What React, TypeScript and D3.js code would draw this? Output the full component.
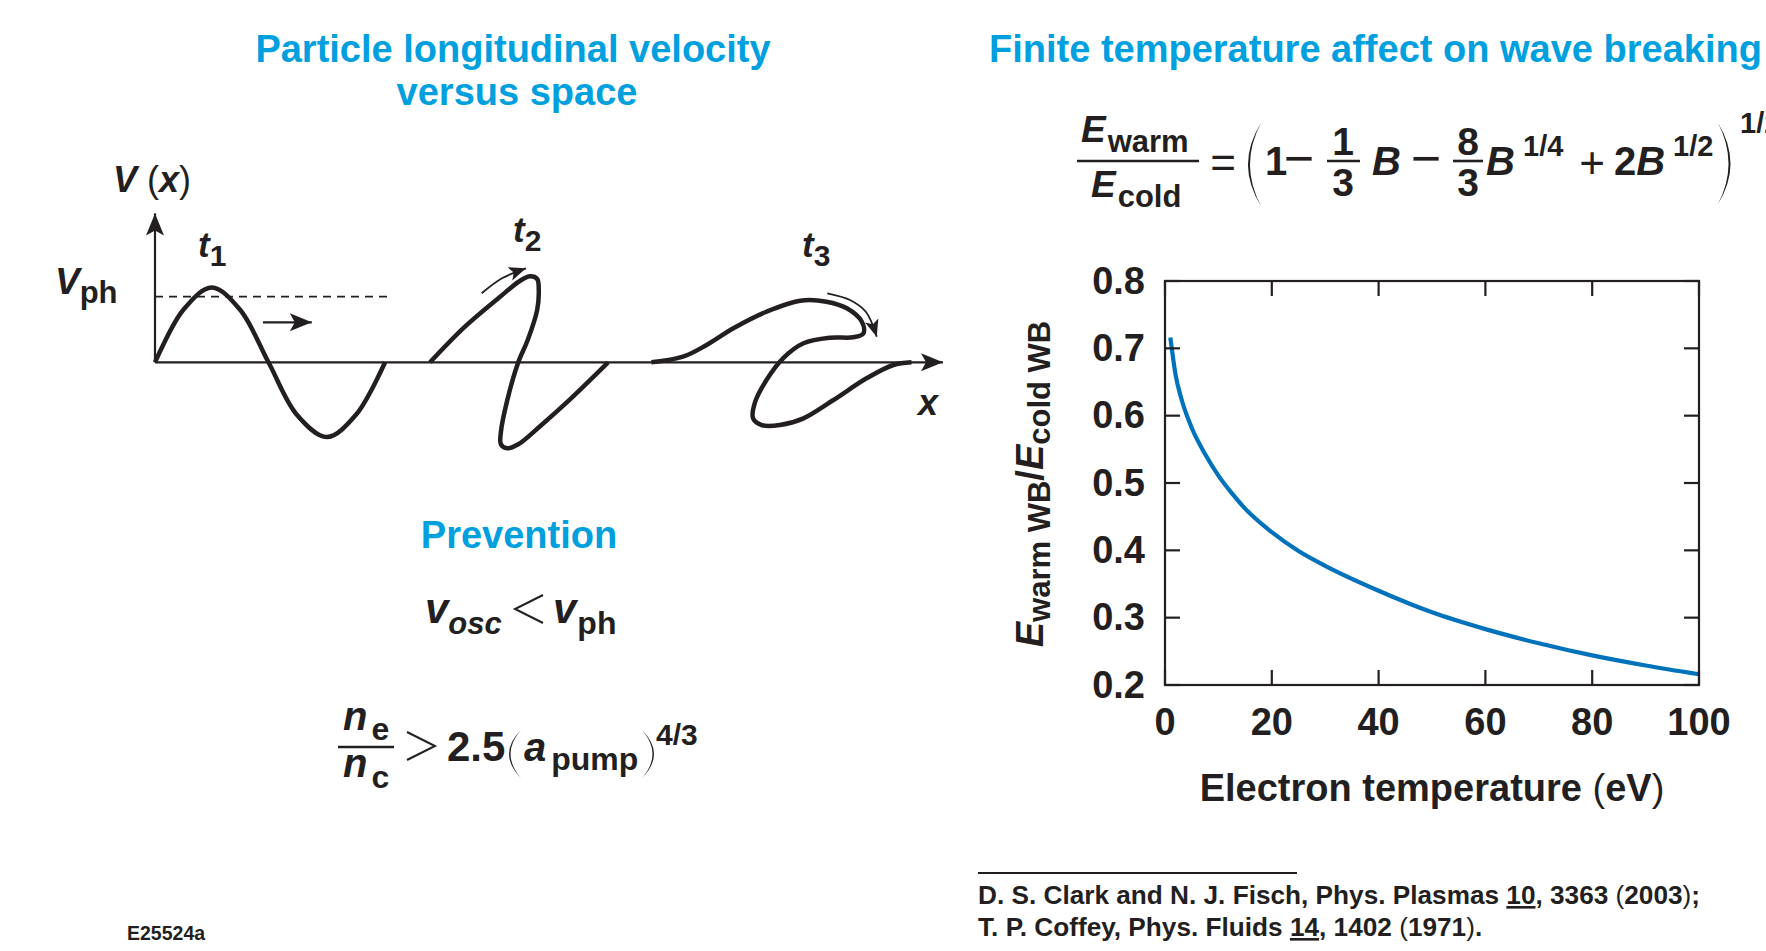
import React from 'react';
import * as d3 from 'd3';

const FONT = '"Liberation Sans", Arial, Helvetica, sans-serif';
const TITLE_BLUE = '#00a0df';
const CURVE_BLUE = '#0072bc';
const INK = '#231f20';

// ---------- Right chart data ----------
const tempEV = [1, 2, 3, 5, 7.5, 10, 12.5, 15, 20, 25, 30, 40, 50, 60, 70, 80, 90, 100];
const ratio = [0.716, 0.66, 0.627, 0.582, 0.543, 0.511, 0.485, 0.462, 0.427, 0.399, 0.377, 0.34, 0.308, 0.283, 0.262, 0.244, 0.229, 0.216];
const xTicks = [0, 20, 40, 60, 80, 100];
const yTicks = [0.2, 0.3, 0.4, 0.5, 0.6, 0.7, 0.8];
const yTickLabels = ['0.2', '0.3', '0.4', '0.5', '0.6', '0.7', '0.8'];

// ---------- Left schematic data (x: space units, v: units of v_ph) ----------
const wave1X = [0, 0.36, 0.72, 1.08, 1.44, 1.8, 2.18, 2.55, 2.92];
const wave1V = [0, 0.8, 1.14, 0.8, 0, -0.8, -1.14, -0.8, 0];
const wave2X = [3.49, 3.93, 4.38, 4.63, 4.76, 4.85, 4.87, 4.85, 4.73, 4.61, 4.47, 4.39, 4.39, 4.47, 4.61, 4.89, 5.27, 5.75];
const wave2V = [0, 0.54, 1.0, 1.24, 1.31, 1.27, 1.1, 0.8, 0.34, 0, -0.58, -1.06, -1.25, -1.31, -1.25, -0.97, -0.56, 0];
const wave3X = [6.3, 6.7, 7.0, 7.34, 7.76, 8.19, 8.52, 8.78, 8.97, 8.99, 8.86, 8.57, 8.23, 7.97, 7.76, 7.61, 7.59, 7.7, 7.93, 8.23, 8.61, 9.03, 9.37, 9.6];
const wave3V = [0, 0.085, 0.264, 0.518, 0.771, 0.939, 0.924, 0.823, 0.619, 0.442, 0.381, 0.375, 0.29, 0.061, -0.27, -0.625, -0.854, -0.956, -0.956, -0.854, -0.575, -0.244, -0.041, 0];
const arrow2X = [4.146, 4.404, 4.708];
const arrow2V = [1.052, 1.28, 1.433];
const arrow3X = [8.532, 8.82, 9.023, 9.159];
const arrow3V = [1.052, 0.95, 0.767, 0.39];
const pushArrowX = [1.37, 1.99];
const pushArrowV = [0.61, 0.61];
const vphLevel = 1;
const dashEndX = 2.98;
const axisEndX = 10;
const axisTopV = 2.27;

const zip = (xs: number[], ys: number[]): [number, number][] => xs.map((x, i) => [x, ys[i]]);

function Crescent({ x, y0, y1, outer, inner }: { x: number; y0: number; y1: number; outer: number; inner: number }) {
  const ym = (y0 + y1) / 2;
  const d = `M${x},${y0} Q${outer},${ym} ${x},${y1} Q${inner},${ym} ${x},${y0} Z`;
  return <path d={d} fill={INK} />;
}

export default function App() {
  // left scales
  const xS = d3.scaleLinear().domain([0, 10]).range([155, 943]);
  const vS = d3.scaleLinear().domain([0, 1]).range([362.3, 296.7]);
  const lineL = d3
    .line<[number, number]>()
    .x((d) => xS(d[0]))
    .y((d) => vS(d[1]))
    .curve(d3.curveCatmullRom.alpha(0.5));
  const straight = d3
    .line<[number, number]>()
    .x((d) => xS(d[0]))
    .y((d) => vS(d[1]));

  // right scales
  const xR = d3.scaleLinear().domain([0, 100]).range([1165, 1699]);
  const yR = d3.scaleLinear().domain([0.2, 0.8]).range([685, 281]);
  const curve = d3
    .line<[number, number]>()
    .x((d) => xR(d[0]))
    .y((d) => yR(d[1]))
    .curve(d3.curveMonotoneX);

  const bold = { fontFamily: FONT, fontWeight: 700 as const, fill: INK };

  return (
    <svg width={1766} height={951} style={{ position: 'absolute', left: 0, top: 0 }} xmlns="http://www.w3.org/2000/svg">
      <defs>
        <marker id="bigHead" viewBox="-24 -10 26 20" refX={0} refY={0} markerWidth={26} markerHeight={20} markerUnits="userSpaceOnUse" orient="auto">
          <path d="M0,0 L-22,-9 L-17,0 L-22,9 Z" fill={INK} />
        </marker>
        <marker id="smallHead" viewBox="-18 -8 20 16" refX={0} refY={0} markerWidth={20} markerHeight={16} markerUnits="userSpaceOnUse" orient="auto">
          <path d="M0,0 L-17,-7 L-13,0 L-17,7 Z" fill={INK} />
        </marker>
      </defs>
      <rect x={0} y={0} width={1766} height={951} fill="#fff" />

      {/* ---------- Titles ---------- */}
      <g style={{ fontFamily: FONT, fontWeight: 700 }} fill={TITLE_BLUE} fontSize={38}>
        <text x={513} y={62} textAnchor="middle">Particle longitudinal velocity</text>
        <text x={517} y={105} textAnchor="middle">versus space</text>
        <text x={989} y={62}>Finite temperature affect on wave breaking</text>
        <text x={519} y={548} textAnchor="middle">Prevention</text>
      </g>

      {/* ---------- Left schematic ---------- */}
      <g fill="none" stroke={INK}>
        <path d={straight([[0, 0], [axisEndX, 0]]) || ''} strokeWidth={2.2} markerEnd="url(#bigHead)" />
        <path d={straight([[0, 0], [0, axisTopV]]) || ''} strokeWidth={2.2} markerEnd="url(#bigHead)" />
        <path d={straight([[0, vphLevel], [dashEndX, vphLevel]]) || ''} strokeWidth={1.8} strokeDasharray="8 6" />
        <path d={straight(zip(pushArrowX, pushArrowV)) || ''} strokeWidth={2.2} markerEnd="url(#bigHead)" />
        <path d={lineL(zip(wave1X, wave1V)) || ''} strokeWidth={4.5} strokeLinejoin="round" />
        <path d={lineL(zip(wave2X, wave2V)) || ''} strokeWidth={4.5} strokeLinejoin="round" />
        <path d={lineL(zip(wave3X, wave3V)) || ''} strokeWidth={4.5} strokeLinejoin="round" />
        <path d={lineL(zip(arrow2X, arrow2V)) || ''} strokeWidth={1.8} markerEnd="url(#smallHead)" />
        <path d={lineL(zip(arrow3X, arrow3V)) || ''} strokeWidth={1.8} markerEnd="url(#smallHead)" />
      </g>
      <g style={bold}>
        <text x={113} y={192} fontSize={36}>
          <tspan fontStyle="italic">V</tspan>
          <tspan fontWeight={400}> (</tspan>
          <tspan fontStyle="italic">x</tspan>
          <tspan fontWeight={400}>)</tspan>
        </text>
        <text x={55} y={294} fontSize={37}>
          <tspan fontStyle="italic">V</tspan>
          <tspan fontSize={31} dy={9}>ph</tspan>
        </text>
        <text x={198} y={257} fontSize={35}>
          <tspan fontStyle="italic">t</tspan>
          <tspan fontSize={30} dy={9}>1</tspan>
        </text>
        <text x={513} y={242} fontSize={35}>
          <tspan fontStyle="italic">t</tspan>
          <tspan fontSize={30} dy={9}>2</tspan>
        </text>
        <text x={802} y={257} fontSize={35}>
          <tspan fontStyle="italic">t</tspan>
          <tspan fontSize={30} dy={9}>3</tspan>
        </text>
        <text x={918} y={415} fontSize={36} fontStyle="italic">x</text>
      </g>

      {/* ---------- Prevention formulas ---------- */}
      <g style={bold}>
        <text x={425} y={623} fontSize={42}>
          <tspan fontStyle="italic">v</tspan>
          <tspan fontSize={31} dy={11} fontStyle="italic">osc</tspan>
        </text>
        <text x={553} y={623} fontSize={42}>
          <tspan fontStyle="italic">v</tspan>
          <tspan fontSize={32} dy={11} dx={1}>ph</tspan>
        </text>
        <text x={343} y={730} fontSize={40}>
          <tspan fontStyle="italic">n</tspan>
          <tspan fontSize={32} dy={10} dx={4}>e</tspan>
        </text>
        <text x={343} y={777} fontSize={40}>
          <tspan fontStyle="italic">n</tspan>
          <tspan fontSize={32} dy={11} dx={4}>c</tspan>
        </text>
        <text x={447} y={761} fontSize={42}>2.5</text>
        <text x={524} y={761} fontSize={40}>
          <tspan fontStyle="italic">a</tspan>
          <tspan fontSize={32} dy={9} dx={5}>pump</tspan>
        </text>
        <text x={656} y={745} fontSize={30}>4/3</text>
      </g>
      <g fill="none" stroke={INK} strokeWidth={2}>
        <path d="M543,595 L515,609 L543,623" />
        <path d="M407,732 L435,746 L407,760" />
        <line x1={338} x2={394} y1={747} y2={747} strokeWidth={2.6} />
      </g>
      <Crescent x={521} y0={730} y1={778} outer={497} inner={500} />
      <Crescent x={642} y0={730} y1={778} outer={666} inner={663} />

      {/* ---------- Right formula ---------- */}
      <g style={bold}>
        <text x={1081} y={142} fontSize={37}>
          <tspan fontStyle="italic">E</tspan>
          <tspan fontSize={31} dy={10} dx={2}>warm</tspan>
        </text>
        <text x={1091} y={197} fontSize={37}>
          <tspan fontStyle="italic">E</tspan>
          <tspan fontSize={31} dy={10} dx={2}>cold</tspan>
        </text>
        <text x={1223} y={178} fontSize={44} fontWeight={400} textAnchor="middle">=</text>
        <text x={1265} y={175} fontSize={40}>1</text>
        <text x={1299} y={176} fontSize={52} fontWeight={400} textAnchor="middle">−</text>
        <text x={1343} y={155} fontSize={39} textAnchor="middle">1</text>
        <text x={1343} y={196} fontSize={39} textAnchor="middle">3</text>
        <text x={1372} y={175} fontSize={40} fontStyle="italic">B</text>
        <text x={1426} y={176} fontSize={52} fontWeight={400} textAnchor="middle">−</text>
        <text x={1468} y={155} fontSize={39} textAnchor="middle">8</text>
        <text x={1468} y={196} fontSize={39} textAnchor="middle">3</text>
        <text x={1486} y={175} fontSize={40} fontStyle="italic">B</text>
        <text x={1523} y={156} fontSize={29}>1/4</text>
        <text x={1592} y={178} fontSize={44} fontWeight={400} textAnchor="middle">+</text>
        <text x={1614} y={175} fontSize={40}>
          <tspan>2</tspan>
          <tspan fontStyle="italic">B</tspan>
        </text>
        <text x={1673} y={156} fontSize={29}>1/2</text>
        <text x={1740} y={133} fontSize={29}>1/2</text>
      </g>
      <g stroke={INK} strokeWidth={2.6}>
        <line x1={1077} x2={1199} y1={161} y2={161} />
        <line x1={1327} x2={1360} y1={161} y2={161} />
        <line x1={1453} x2={1483} y1={161} y2={161} />
      </g>
      <Crescent x={1261} y0={123} y1={206} outer={1235} inner={1239} />
      <Crescent x={1718} y0={123} y1={204} outer={1743} inner={1739} />

      {/* ---------- Right chart ---------- */}
      <path d={curve(zip(tempEV, ratio)) || ''} fill="none" stroke={CURVE_BLUE} strokeWidth={4.2} />
      <g stroke={INK} strokeWidth={2.2} fill="none">
        <rect x={xR(0)} y={yR(0.8)} width={xR(100) - xR(0)} height={yR(0.2) - yR(0.8)} />
        {xTicks.map((t) => (
          <g key={'xt' + t}>
            <line x1={xR(t)} x2={xR(t)} y1={yR(0.2)} y2={yR(0.2) - 15} />
            <line x1={xR(t)} x2={xR(t)} y1={yR(0.8)} y2={yR(0.8) + 15} />
          </g>
        ))}
        {yTicks.map((t) => (
          <g key={'yt' + t}>
            <line x1={xR(0)} x2={xR(0) + 15} y1={yR(t)} y2={yR(t)} />
            <line x1={xR(100)} x2={xR(100) - 15} y1={yR(t)} y2={yR(t)} />
          </g>
        ))}
      </g>
      <g style={bold} fontSize={38}>
        {xTicks.map((t) => (
          <text key={'xl' + t} x={xR(t)} y={735} textAnchor="middle">{t}</text>
        ))}
        {yTicks.map((t, i) => (
          <text key={'yl' + t} x={1145} y={yR(t)} dy="0.33em" textAnchor="end">{yTickLabels[i]}</text>
        ))}
        <text x={(xR(0) + xR(100)) / 2} y={801} textAnchor="middle">
          <tspan>Electron temperature </tspan>
          <tspan fontWeight={400}>(</tspan>
          <tspan>eV</tspan>
          <tspan fontWeight={400}>)</tspan>
        </text>
        <text transform="translate(1043,484) rotate(-90)" textAnchor="middle">
          <tspan fontStyle="italic">E</tspan>
          <tspan fontSize={31} dy={7}>warm WB</tspan>
          <tspan dy={-7}>/</tspan>
          <tspan fontStyle="italic">E</tspan>
          <tspan fontSize={31} dy={7}>cold WB</tspan>
        </text>
      </g>

      {/* ---------- References ---------- */}
      <line x1={978} x2={1297} y1={873} y2={873} stroke={INK} strokeWidth={2} />
      <g style={bold} fontSize={26.2}>
        <text x={978} y={904}>
          <tspan>D. S. Clark and N. J. Fisch, Phys. Plasmas </tspan>
          <tspan style={{ textDecoration: 'underline' }}>10</tspan>
          <tspan>, 3363 </tspan>
          <tspan fontWeight={400}>(</tspan>
          <tspan>2003</tspan>
          <tspan fontWeight={400}>)</tspan>
          <tspan>;</tspan>
        </text>
        <text x={978} y={936}>
          <tspan>T. P. Coffey, Phys. Fluids </tspan>
          <tspan style={{ textDecoration: 'underline' }}>14</tspan>
          <tspan>, 1402 </tspan>
          <tspan fontWeight={400}>(</tspan>
          <tspan>1971</tspan>
          <tspan fontWeight={400}>)</tspan>
          <tspan>.</tspan>
        </text>
      </g>
      <text x={127} y={940} style={bold} fontSize={19.5}>E25524a</text>
    </svg>
  );
}
